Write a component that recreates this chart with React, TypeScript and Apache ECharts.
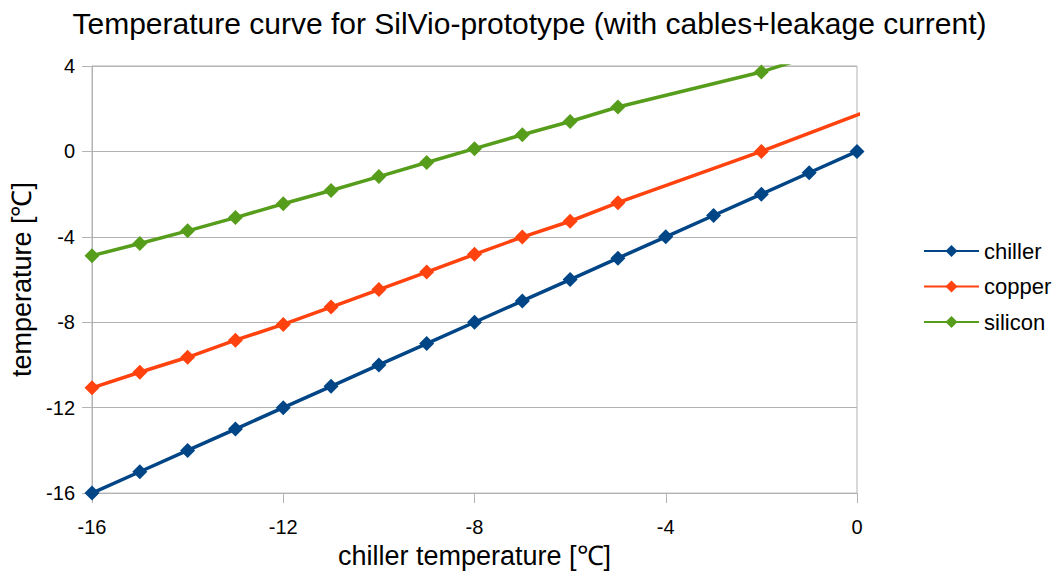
import React, { useEffect, useRef } from "react";
import * as echarts from "echarts";

const xValues = [-16, -15, -14, -13, -12, -11, -10, -9, -8, -7, -6, -5, -4, -3, -2, -1, 0];
const chiller = [-16, -15, -14, -13, -12, -11, -10, -9, -8, -7, -6, -5, -4, -3, -2, -1, 0];

const copperX = [-16, -15, -14, -13, -12, -11, -10, -9, -8, -7, -6, -5, -2, 2];
const copper = [-11.07, -10.34, -9.64, -8.84, -8.1, -7.29, -6.47, -5.65, -4.82, -4.01, -3.27, -2.4, 0.0, 3.42];

const siliconX = [-16, -15, -14, -13, -12, -11, -10, -9, -8, -7, -6, -5, -2, 2];
const silicon = [-4.88, -4.31, -3.72, -3.1, -2.45, -1.83, -1.18, -0.52, 0.13, 0.78, 1.4, 2.08, 3.72, 6.6];

const seriesNames = ["chiller", "copper", "silicon"];
const colors = ["#004586", "#ff420e", "#579d1c"];

const titleText = "Temperature curve for SilVio-prototype (with cables+leakage current)";
const xName = "chiller temperature [℃]";
const yName = "temperature [℃]";

const FONT = "'Liberation Sans', Arial, sans-serif";

export default function App() {
  const ref = useRef<HTMLDivElement>(null);
  useEffect(() => {
    document.body.style.margin = "0";
    const chart = echarts.init(ref.current!, null, { renderer: "svg" });
    const pairs = (xs: number[], ys: number[]) => xs.map((x, i) => [x, ys[i]]);
    const seriesData = [pairs(xValues, chiller), pairs(copperX, copper), pairs(siliconX, silicon)];
    chart.setOption({
      animation: false,
      textStyle: { fontFamily: FONT },
      title: {
        text: titleText,
        left: "center",
        top: 3,
        textStyle: { fontFamily: FONT, fontSize: 30, fontWeight: "normal", color: "#000" },
      },
      legend: {
        orient: "vertical",
        left: 918,
        top: 235,
        itemWidth: 55,
        itemHeight: 15,
        itemGap: 13.5,
        data: seriesNames,
        textStyle: { fontFamily: FONT, fontSize: 22, lineHeight: 22, color: "#000" },
      },
      grid: { left: 92, right: 202, top: 66, bottom: 77, show: true, borderColor: "#b3b3b3", borderWidth: 1 },
      xAxis: {
        type: "value",
        min: -16,
        max: 0,
        interval: 4,
        name: xName,
        nameLocation: "middle",
        nameGap: 44,
        nameTextStyle: { fontFamily: FONT, fontSize: 27, color: "#000" },
        axisLine: { show: true, onZero: false, lineStyle: { color: "#b3b3b3", width: 1 } },
        axisTick: { show: true, length: 10, inside: false, lineStyle: { color: "#b3b3b3" } },
        splitLine: { show: false },
        axisLabel: { fontFamily: FONT, fontSize: 20, color: "#000", margin: 24 },
      },
      yAxis: {
        type: "value",
        min: -16,
        max: 4,
        interval: 4,
        name: yName,
        nameLocation: "middle",
        nameGap: 52,
        nameTextStyle: { fontFamily: FONT, fontSize: 27, color: "#000" },
        axisLine: { show: true, onZero: false, lineStyle: { color: "#b3b3b3", width: 1 } },
        axisTick: { show: true, length: 10, inside: false, lineStyle: { color: "#b3b3b3" } },
        splitLine: { show: true, lineStyle: { color: "#b3b3b3", width: 1 } },
        axisLabel: { fontFamily: FONT, fontSize: 20, color: "#000", margin: 17 },
      },
      series: seriesNames.map((name, i) => ({
        name,
        type: "line",
        data: seriesData[i],
        clip: true,
        symbol: "diamond",
        symbolSize: 15,
        showAllSymbol: true,
        color: colors[i],
        itemStyle: { color: colors[i] },
        lineStyle: { color: colors[i], width: 3.5 },
      })),
    });
    return () => chart.dispose();
  }, []);
  return <div ref={ref} style={{ width: 1059, height: 574 }} />;
}
